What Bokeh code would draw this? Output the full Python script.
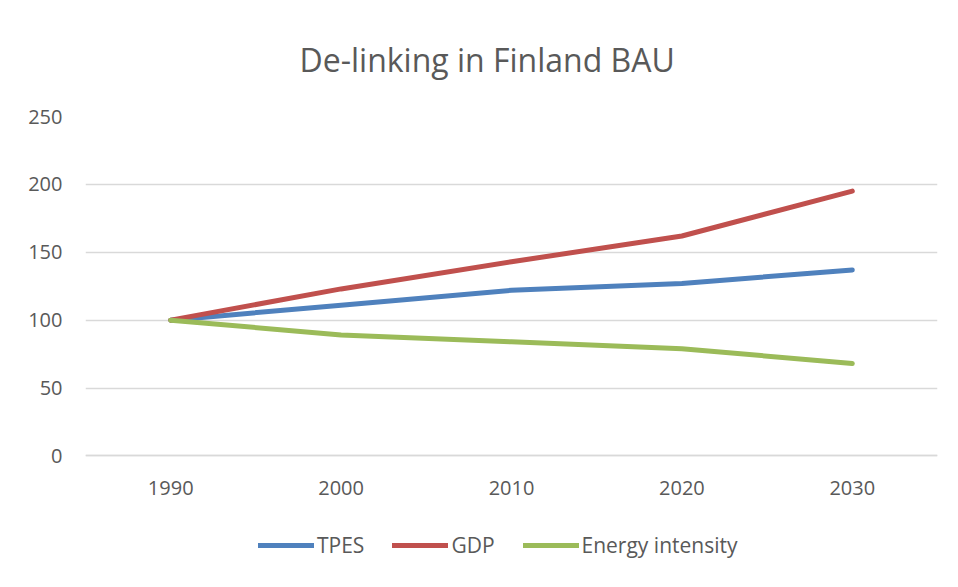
from bokeh.plotting import figure
from bokeh.models import Legend, LegendItem, FixedTicker, Range1d
from bokeh.embed import file_html
from bokeh.resources import INLINE

years = ["1990", "2000", "2010", "2020", "2030"]
tpes = [100, 111, 122, 127, 137]
gdp = [100, 123, 143, 162, 195]
energy_intensity = [100, 89, 84, 79, 68]
y_ticks = [0, 50, 100, 150, 200, 250]

FONT = "Open Sans"
TXT = "#595959"
GRID = "#D9D9D9"

p = figure(x_range=years, y_range=Range1d(-80, 250), width=942, height=571,
           output_backend="svg", toolbar_location=None,
           min_border_left=85, min_border_right=5, min_border_top=115, min_border_bottom=7,
           title="De-linking in Finland BAU")
p.title.text_font = FONT
p.title.text_font_size = "32px"
p.title.text_font_style = "normal"
p.title.text_color = TXT
p.title.align = "left"
p.title.offset = 214
p.title.standoff = 71
p.outline_line_color = None

r1 = p.line(years, tpes, line_color="#4F81BD", line_width=5, line_cap="round", line_join="round")
r2 = p.line(years, gdp, line_color="#C0504D", line_width=5, line_cap="round", line_join="round")
r3 = p.line(years, energy_intensity, line_color="#9BBB59", line_width=5, line_cap="round", line_join="round")

p.yaxis.ticker = FixedTicker(ticks=y_ticks)
p.ygrid.grid_line_color = GRID
p.ygrid.grid_line_width = 1.3
p.xgrid.grid_line_color = None
for ax in (p.xaxis, p.yaxis):
    ax.major_tick_line_color = None
    ax.minor_tick_line_color = None
    ax.major_label_text_font = FONT
    ax.major_label_text_font_size = "20px"
    ax.major_label_text_color = TXT
p.yaxis.axis_line_color = None
p.xaxis.fixed_location = 0
p.xaxis.axis_line_color = GRID
p.xaxis.axis_line_width = 1.3
p.yaxis.major_label_standoff = 17
p.xaxis.major_label_standoff = 19

legend = Legend(items=[LegendItem(label="TPES", renderers=[r1]),
                       LegendItem(label="GDP", renderers=[r2]),
                       LegendItem(label="Energy intensity", renderers=[r3])],
                orientation="horizontal", location=(173, 5),
                glyph_width=56, glyph_height=24, label_standoff=3, spacing=28,
                padding=0, margin=0, border_line_color=None, background_fill_alpha=0,
                label_text_font=FONT, label_text_font_size="21px", label_text_color=TXT)
p.add_layout(legend, "center")

open("out.html", "w").write(file_html(p, INLINE))
